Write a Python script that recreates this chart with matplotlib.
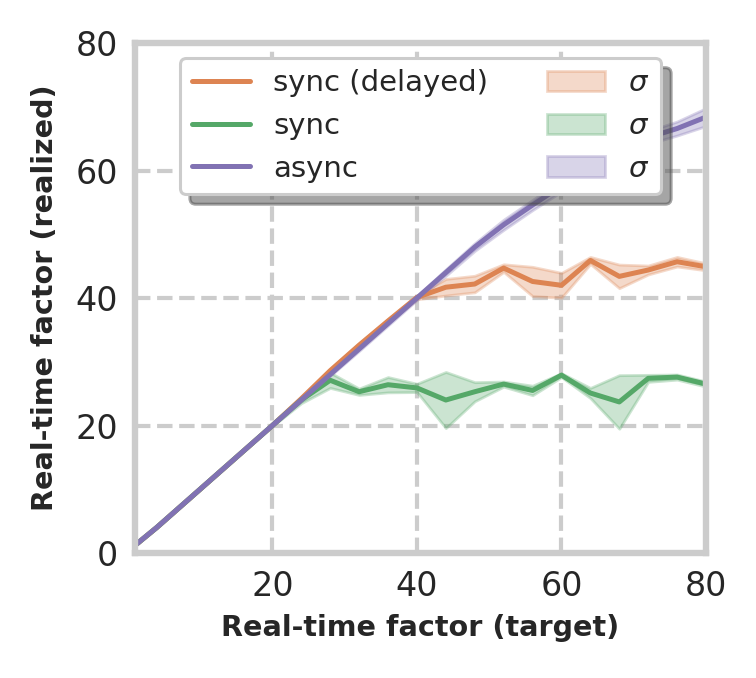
import matplotlib
matplotlib.use("Agg")
import matplotlib.pyplot as plt
import numpy as np
import seaborn as sns

# ---- data ----
target = [1, 4, 8, 12, 16, 20, 24, 28, 32, 36, 40, 44, 48, 52, 56, 60, 64, 68, 72, 76, 80]

delayed_mean = [1.2, 4, 8, 12, 16, 20, 24.2, 28.6, 32.6, 36.4, 40.1, 41.7, 42.2, 44.7, 42.6, 42.0, 45.9, 43.4, 44.4, 45.7, 44.9]
delayed_std = [0.1, 0.1, 0.1, 0.1, 0.1, 0.1, 0.2, 0.3, 0.3, 0.3, 0.3, 1.3, 1.3, 0.6, 2.3, 1.95, 0.55, 1.85, 0.7, 0.75, 0.55]

sync_mean = [1.2, 4, 8, 12, 16, 20, 24.0, 27.1, 25.3, 26.4, 25.9, 24.0, 25.3, 26.5, 25.5, 27.9, 25.1, 23.7, 27.4, 27.6, 26.5]
sync_std = [0.1, 0.1, 0.1, 0.1, 0.1, 0.1, 0.5, 1.2, 0.5, 1.2, 0.65, 4.4, 1.5, 0.4, 0.75, 0.3, 0.8, 4.2, 0.55, 0.4, 0.4]

async_mean = [1.2, 4, 8, 12, 16, 20, 24, 28, 32, 36, 40, 44, 48, 51.5, 54.6, 57.6, 60.5, 63.0, 65.2, 66.6, 68.4]
async_std = [0.1, 0.1, 0.1, 0.1, 0.1, 0.1, 0.2, 0.2, 0.3, 0.3, 0.3, 0.5, 0.6, 0.8, 0.8, 0.9, 0.9, 1.0, 1.0, 1.1, 1.4]

labels = ["sync (delayed)", "sync", "async"]
x_ticks = [20, 40, 60, 80]
y_ticks = [0, 20, 40, 60, 80]

sns.set_theme(style="whitegrid", palette="deep")
plt.rcParams.update({
    "font.family": ["DejaVu Sans"],
    "grid.linestyle": "--",
    "grid.color": "0.8",
    "grid.linewidth": 1.5,
    "axes.edgecolor": "0.8",
    "axes.linewidth": 2.3,
})

pal = sns.color_palette("deep")
colors = [pal[1], pal[2], pal[4]]

fig = plt.figure(figsize=(3.78, 3.39), dpi=200)
ax = fig.add_axes([0.1786, 0.1844, 0.7553, 0.752])

x = np.array(target)
line_handles = []
fill_handles = []
for m, s, c, lab in zip([delayed_mean, sync_mean, async_mean],
                        [delayed_std, sync_std, async_std], colors, labels):
    m = np.array(m); s = np.array(s)
    ln, = ax.plot(x, m, color=c, lw=1.8, label=lab)
    fb = ax.fill_between(x, m - s, m + s, color=c, alpha=0.3, lw=1.0, label=r"$\sigma$")
    line_handles.append(ln)
    fill_handles.append(fb)

ax.set_xlim(1, 80)
ax.set_ylim(0, 80)
ax.set_xticks(x_ticks)
ax.set_yticks(y_ticks)
ax.tick_params(labelsize=12, length=0, pad=6, colors="0.15")
ax.set_xlabel("Real-time factor (target)", fontsize=10.3, fontweight="bold", color="0.15", labelpad=4)
ax.set_ylabel("Real-time factor (realized)", fontsize=10.3, fontweight="bold", color="0.15", labelpad=6)

leg = ax.legend(line_handles + fill_handles,
                labels + [r"$\sigma$"] * 3,
                loc="upper center", ncol=2, shadow={"ox": 3.6, "oy": -3.6}, fontsize=10.5,
                frameon=True, fancybox=True)
leg.get_frame().set_edgecolor("0.8")
leg.get_frame().set_linewidth(1.1)

fig.savefig("out.png", dpi=200)
